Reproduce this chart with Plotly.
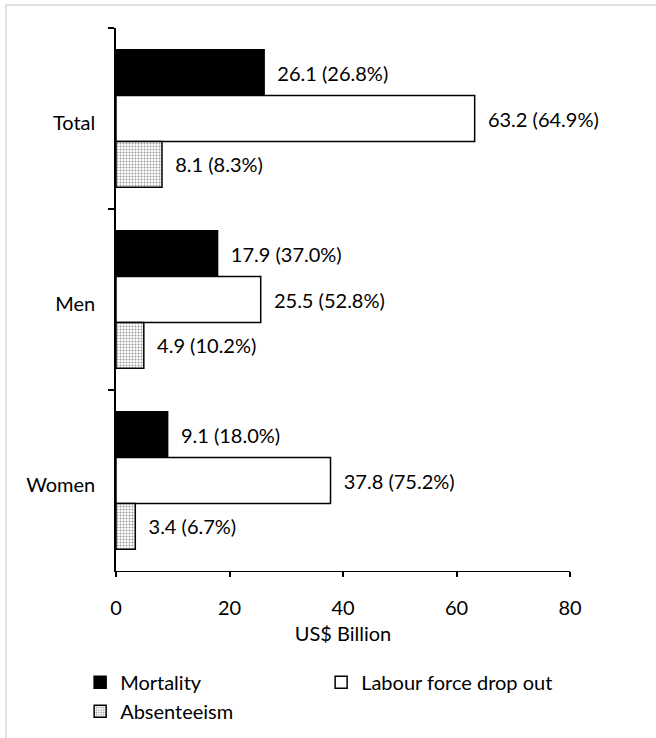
import plotly.graph_objects as go

categories = ["Total", "Men", "Women"]
series_names = ["Mortality", "Labour force drop out", "Absenteeism"]
mortality = [26.1, 17.9, 9.1]
labour = [63.2, 25.5, 37.8]
absenteeism = [8.1, 4.9, 3.4]
mortality_pct = [26.8, 37.0, 18.0]
labour_pct = [64.9, 52.8, 75.2]
absenteeism_pct = [8.3, 10.2, 6.7]
x_ticks = [0, 20, 40, 60, 80]

FONT = "Lato"
FS = 20
W, H = 656, 738
ML, MR, MT, MB = 116, 86, 28, 167

fig = go.Figure()

styles = [
    dict(color="black", line=dict(color="black", width=1.5)),
    dict(color="white", line=dict(color="black", width=1.5)),
    dict(color="white", line=dict(color="black", width=1.5),
         pattern=dict(shape=".", fgcolor="#333333", bgcolor="white", size=3, solidity=0.35)),
]
for name, vals, pcts, st in zip(series_names, [mortality, labour, absenteeism],
                                [mortality_pct, labour_pct, absenteeism_pct], styles):
    fig.add_trace(go.Bar(
        name=name, y=categories, x=vals, orientation="h",
        marker=st,
        text=[f"\u00a0\u00a0{v:.1f} ({p:.1f}%)" for v, p in zip(vals, pcts)],
        textposition="outside", cliponaxis=False, constraintext="none",
        textfont=dict(family=FONT, size=FS, color="black"),
    ))

fig.update_layout(
    width=W, height=H,
    margin=dict(l=ML, r=MR, t=MT, b=MB, autoexpand=False),
    barmode="group", bargap=0.24, bargroupgap=0,
    plot_bgcolor="white", paper_bgcolor="white",
    font=dict(family=FONT, size=FS, color="black"),
    showlegend=True,
    legend=dict(orientation="h", x=-0.079, xanchor="left", y=-0.169, yanchor="top",
                entrywidth=196, font=dict(size=FS), traceorder="normal",
                bgcolor="rgba(0,0,0,0)"),
    xaxis=dict(range=[0, 80], tickvals=x_ticks, showgrid=False, zeroline=False,
               showline=True, linecolor="black", linewidth=1.2, automargin=False,
               ticks="outside", ticklen=5, tickcolor="black", tickwidth=1.5,
               ticklabelstandoff=14,
               title=dict(text="US$ Billion", standoff=8, font=dict(size=FS))),
    yaxis=dict(autorange="reversed", showgrid=False, showline=True, linecolor="black",
               linewidth=1.5, ticks="outside", tickson="boundaries", ticklen=6,
               tickcolor="black", tickwidth=1.5, ticklabelstandoff=15,
               ticklabelshift=-4, automargin=False),
    shapes=[dict(type="rect", xref="paper", yref="paper",
                 x0=(6 - ML) / (W - ML - MR), x1=3,
                 y0=-3, y1=(H - MB - 5) / (H - MT - MB),
                 line=dict(color="#d9d9d9", width=1.5), fillcolor="rgba(0,0,0,0)",
                 layer="below")],
)

fig.write_html("out.html")
